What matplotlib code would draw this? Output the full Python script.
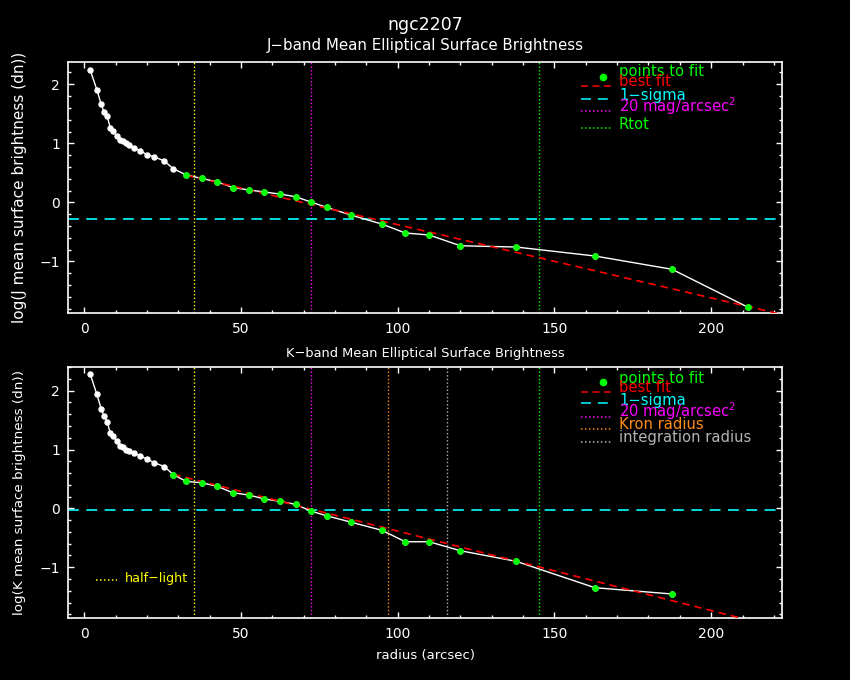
import matplotlib
matplotlib.use("Agg")
import matplotlib.pyplot as plt
import matplotlib.ticker as mticker
from matplotlib.lines import Line2D

W, H = 850, 680

# --- data (radius in arcsec, log surface brightness) ---
radius = [1.9, 4.0, 5.4, 6.3, 7.3, 8.3, 9.3, 10.3, 11.3, 12.3, 13.3, 14.2,
          16.0, 17.9, 19.9, 22.4, 25.5, 28.4, 32.4, 37.4, 42.4, 47.4, 52.4,
          57.4, 62.4, 67.4, 72.3, 77.3, 85.0, 95.0, 102.4, 110.0, 120.0,
          137.8, 162.9, 187.5, 211.8]

j_logsb = [2.24, 1.91, 1.66, 1.53, 1.46, 1.26, 1.21, 1.12, 1.06, 1.04, 1.00,
           0.97, 0.92, 0.875, 0.81, 0.77, 0.70, 0.57, 0.466, 0.405, 0.347,
           0.25, 0.21, 0.175, 0.14, 0.095, 0.005, -0.085, -0.215, -0.37,
           -0.52, -0.554, -0.736, -0.758, -0.91, -1.135, -1.78]
j_fit_start = 18

k_logsb = [2.28, 1.94, 1.69, 1.57, 1.47, 1.28, 1.23, 1.14, 1.06, 1.05, 0.995,
           0.98, 0.94, 0.89, 0.84, 0.775, 0.71, 0.575, 0.46, 0.435, 0.375,
           0.265, 0.228, 0.16, 0.119, 0.068, -0.046, -0.126, -0.233, -0.374,
           -0.567, -0.567, -0.72, -0.90, -1.348, -1.455]
k_fit_start = 17

# best-fit lines (end points)
j_fit_r = [32.4, 222.5]
j_fit_y = [0.46, -1.90]
k_fit_r = [28.4, 222.5]
k_fit_y = [0.58, -2.04]

j_sigma = -0.288
k_sigma = -0.034

r_half = 35.1
r_20mag = 72.4
r_kron = 97.0
r_integ = 115.8
r_tot = 145.0

GREEN = "#00ff00"
RED = "#ff0000"
CYAN = "#00ffff"
MAGENTA = "#ff00ff"
YELLOW = "#ffff00"
ORANGE = "#ff8c1a"
GREY = "#b4b4b4"
WHITE = "#ffffff"

plt.rcParams.update({
    "font.family": "DejaVu Sans",
    "text.color": WHITE,
    "axes.edgecolor": WHITE,
    "xtick.color": WHITE,
    "ytick.color": WHITE,
})


def fx(x):
    return x / W


def fy(y):
    return 1 - y / H


def ax_box(left, top, right, bottom):
    return [fx(left), fy(bottom), fx(right) - fx(left), fy(top) - fy(bottom)]


DOT = (0, (1.0, 1.6))
DASH_RED = (0, (4.5, 3.0))
DASH_CYAN = (0, (6.5, 4.5))


def style_axes(ax, ylim, label_size):
    ax.set_facecolor("black")
    ax.set_xlim(-5.1, 222.5)
    ax.set_ylim(*ylim)
    ax.xaxis.set_major_locator(mticker.MultipleLocator(50))
    ax.xaxis.set_minor_locator(mticker.MultipleLocator(10))
    ax.yaxis.set_major_locator(mticker.MultipleLocator(1))
    ax.yaxis.set_minor_locator(mticker.MultipleLocator(0.2))
    ax.yaxis.set_major_formatter(
        mticker.FuncFormatter(lambda v, _: f"{v:.0f}".replace("-", "\u2212")))
    ax.tick_params(which="both", direction="in", top=True, right=True,
                   width=1.0, labelsize=label_size)
    ax.tick_params(which="major", length=4.6, pad=6)
    ax.tick_params(which="minor", length=2.3)
    for s in ax.spines.values():
        s.set_linewidth(1.2)


def draw_profile(ax, logsb, fit_start, fit_r, fit_y, sigma, vlines):
    r = radius[:len(logsb)]
    for xv, c in vlines:
        ax.axvline(xv, color=c, lw=1.0, linestyle=DOT, zorder=1)
    ax.axhline(sigma, color=CYAN, lw=1.2, linestyle=DASH_CYAN, zorder=1)
    ax.plot(r, logsb, color=WHITE, lw=1.0, marker="o", ms=3.6,
            mfc=WHITE, mec=WHITE, zorder=2)
    ax.plot(fit_r, fit_y, color=RED, lw=1.2, linestyle=DASH_RED, zorder=3)
    ax.plot(r[fit_start:], logsb[fit_start:], linestyle="none", marker="o",
            ms=3.8, mfc=GREEN, mec=GREEN, zorder=4)


def legend(fig, rows, dot_y):
    fig.add_artist(Line2D([fx(603)], [fy(dot_y)], marker="o", ms=4.5,
                          color=GREEN, linestyle="none"))
    for label, color, ls, y_line, y_text in rows:
        if ls is not None:
            fig.add_artist(Line2D([fx(581), fx(611)], [fy(y_line), fy(y_line)],
                                  color=color, lw=1.1, linestyle=ls))
        fig.text(fx(619), fy(y_text), label, color=color, fontsize=10.6,
                 va="baseline", ha="left")


fig = plt.figure(figsize=(W / 100, H / 100), dpi=100, facecolor="black")

# ---------------- J band ----------------
ax1 = fig.add_axes(ax_box(68.3, 61.7, 781.7, 313.3))
style_axes(ax1, (-1.881, 2.383), 10)
draw_profile(ax1, j_logsb, j_fit_start, j_fit_r, j_fit_y, j_sigma,
             [(r_half, YELLOW), (r_20mag, MAGENTA), (r_tot, GREEN)])
ax1.set_ylabel("log(J mean surface brightness (dn))", fontsize=11,
               color=WHITE, labelpad=9)

fig.text(0.5, fy(30), "ngc2207", ha="center", va="baseline", fontsize=12.5)
fig.text(fx(425), fy(50), "J\u2212band Mean Elliptical Surface Brightness",
         ha="center", va="baseline", fontsize=10.8)

legend(fig, [
    ("points to fit", GREEN, None, 0, 76),
    ("best fit", RED, DASH_RED, 86, 86),
    ("1\u2212sigma", CYAN, DASH_CYAN, 99, 100),
    ("20 mag/arcsec$^{2}$", MAGENTA, DOT, 110.7, 111.7),
    ("Rtot", GREEN, DOT, 128.3, 129.3),
], 77)

# ---------------- K band ----------------
ax2 = fig.add_axes(ax_box(68.3, 366.7, 781.7, 618.3))
style_axes(ax2, (-1.868, 2.407), 10)
draw_profile(ax2, k_logsb, k_fit_start, k_fit_r, k_fit_y, k_sigma,
             [(r_half, YELLOW), (r_20mag, MAGENTA), (r_kron, ORANGE),
              (r_integ, GREY), (r_tot, GREEN)])
ax2.set_ylabel("log(K mean surface brightness (dn))", fontsize=9.7,
               color=WHITE, labelpad=10)
ax2.set_xlabel("radius (arcsec)", fontsize=9.5, color=WHITE, labelpad=6)

fig.text(fx(425), fy(357.3), "K\u2212band Mean Elliptical Surface Brightness",
         ha="center", va="baseline", fontsize=9.4)

legend(fig, [
    ("points to fit", GREEN, None, 0, 382.7),
    ("best fit", RED, DASH_RED, 391.7, 392.3),
    ("1\u2212sigma", CYAN, DASH_CYAN, 403.3, 405),
    ("20 mag/arcsec$^{2}$", MAGENTA, DOT, 417.3, 417.3),
    ("Kron radius", ORANGE, DOT, 429.3, 429.3),
    ("integration radius", GREY, DOT, 441.7, 442.3),
], 382)

fig.add_artist(Line2D([fx(96), fx(117)], [fy(580), fy(580)], color=YELLOW,
                      lw=1.1, linestyle=DOT))
fig.text(fx(125), fy(581.7), "half\u2212light", color=YELLOW, fontsize=9.2,
         va="baseline", ha="left")

fig.savefig("out.png", dpi=100, facecolor="black")
